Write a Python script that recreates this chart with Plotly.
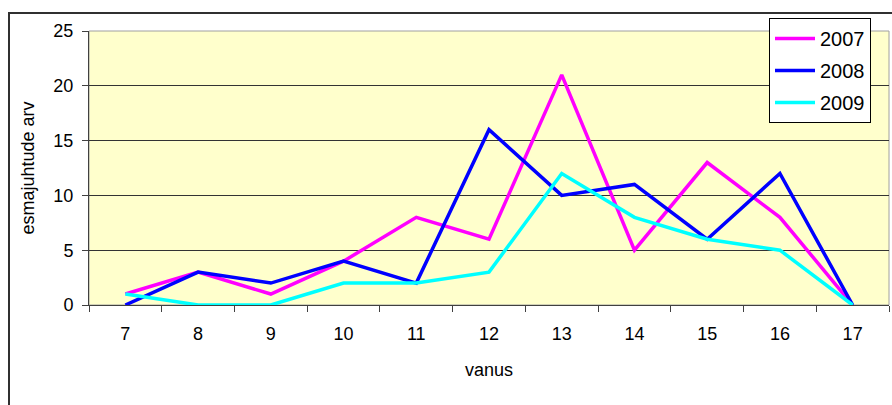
import plotly.graph_objects as go

vanus = ["7", "8", "9", "10", "11", "12", "13", "14", "15", "16", "17"]
y2007 = [1, 3, 1, 4, 8, 6, 21, 5, 13, 8, 0]
y2008 = [0, 3, 2, 4, 2, 16, 10, 11, 6, 12, 0]
y2009 = [1, 0, 0, 2, 2, 3, 12, 8, 6, 5, 0]

fig = go.Figure()
for name, ys, col in [("2007", y2007, "#FF00FF"),
                      ("2008", y2008, "#0000FF"),
                      ("2009", y2009, "#00FFFF")]:
    fig.add_trace(go.Scatter(name=name, x=vanus, y=ys, mode="lines",
                             legendgroup=name,
                             line=dict(color=col, width=3.5)))

fig.update_layout(
    width=892, height=405,
    margin=dict(l=89, r=3, t=31, b=100, autoexpand=False),
    paper_bgcolor="white",
    plot_bgcolor="#FFFFCC",
    font=dict(family="Liberation Sans, Arial", size=18, color="black"),
    legend=dict(x=0.85, y=1.047, xanchor="left", yanchor="top",
                bgcolor="white", bordercolor="black", borderwidth=1,
                font=dict(size=20), tracegroupgap=3, itemwidth=40),
    showlegend=True,
)

fig.update_xaxes(
    type="category", range=[-0.5, 10.5], automargin=False,
    tickson="boundaries", ticks="outside", ticklen=6, tickcolor="#404040",
    showline=True, linecolor="#404040", linewidth=1,
    showgrid=False, zeroline=False, ticklabelstandoff=12,
    title=dict(text="vanus", font=dict(size=18), standoff=20),
    tickfont=dict(size=18),
)
fig.update_yaxes(
    range=[0, 25], dtick=5, ticks="outside", ticklen=6, tickcolor="#404040",
    showline=True, linecolor="#404040", linewidth=1, automargin=False,
    showgrid=True, gridcolor="#333333", gridwidth=1, zeroline=False,
    ticklabelstandoff=5,
    title=dict(text="esmajuhtude arv", font=dict(size=18), standoff=14),
    tickfont=dict(size=18),
)

# gray plot-area border on top and right
fig.add_shape(type="rect", xref="paper", yref="paper", x0=0, x1=1, y0=0, y1=1,
              line=dict(color="#A0A0A0", width=1), layer="below")
# outer chart frame
fig.add_shape(type="rect", xref="paper", yref="paper", x0=-0.1, x1=1.02,
              y0=-0.6, y1=1.0657, line=dict(color="#303030", width=2))

fig.write_html("out.html", config={"displayModeBar": False},
               post_script="document.body.style.margin='0';")
